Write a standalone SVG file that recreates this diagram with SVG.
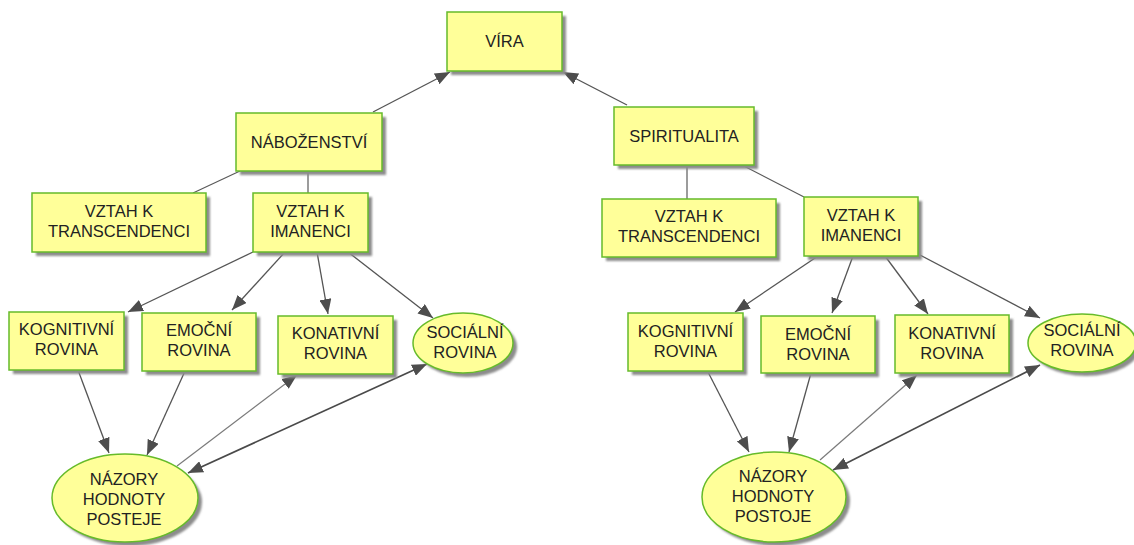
<svg xmlns="http://www.w3.org/2000/svg" width="1134" height="545" viewBox="0 0 1134 545">
<defs>
<marker id="ah" markerUnits="userSpaceOnUse" markerWidth="16" markerHeight="12" refX="15" refY="6" orient="auto-start-reverse">
<path d="M0,0 L15,6 L0,12 z" fill="#4d4d4d"/>
</marker>
<filter id="blur" x="-10%" y="-10%" width="130%" height="130%"><feGaussianBlur stdDeviation="1"/></filter>
</defs>
<style>
.box{fill:#ffff99;stroke:#66bb2a;stroke-width:1.5}
.sh{fill:#8c8c8c;filter:url(#blur)}
.t{font-family:"Liberation Sans",Arial,sans-serif;font-size:16.5px;fill:#222;text-anchor:middle}
.ln{stroke:#5a5a5a;stroke-width:1.2;fill:none}
.ar{stroke:#555;stroke-width:1.3;fill:none;marker-end:url(#ah)}
.lt{stroke:#7a7a7a;stroke-width:1.2;fill:none;marker-end:url(#ah)}
.db{stroke:#4a4a4a;stroke-width:1.7;fill:none;marker-end:url(#ah);marker-start:url(#ah)}
</style>
<rect width="1134" height="545" fill="#fff"/>
<g id="connectors">
<line class="ar" x1="373" y1="112" x2="450" y2="72"/>
<line class="ar" x1="627" y1="105" x2="563" y2="72"/>
<line class="ln" x1="193" y1="193" x2="240" y2="171"/>
<line class="ln" x1="308" y1="171" x2="308" y2="193"/>
<line class="ln" x1="687" y1="165" x2="687" y2="199"/>
<line class="ln" x1="742" y1="165" x2="804" y2="197"/>
<line class="ar" x1="253" y1="252" x2="128" y2="312"/>
<line class="ar" x1="285" y1="252" x2="232" y2="310"/>
<line class="ar" x1="317" y1="252" x2="328" y2="314"/>
<line class="ar" x1="348" y1="252" x2="433" y2="318"/>
<line class="ar" x1="818" y1="256" x2="735" y2="312"/>
<line class="ar" x1="853" y1="256" x2="832" y2="313"/>
<line class="ar" x1="885" y1="256" x2="928" y2="314"/>
<line class="ar" x1="918" y1="254" x2="1040" y2="318"/>
<line class="ar" x1="78" y1="370" x2="109" y2="453"/>
<line class="ar" x1="185" y1="371" x2="147" y2="455"/>
<line class="lt" x1="177" y1="466" x2="297" y2="375"/>
<line class="db" x1="188" y1="473" x2="427" y2="364"/>
<line class="ar" x1="708" y1="372" x2="749" y2="452"/>
<line class="ar" x1="811" y1="373" x2="789" y2="452"/>
<line class="lt" x1="820" y1="460" x2="917" y2="375"/>
<line class="db" x1="833" y1="470" x2="1040" y2="365"/>
</g>
<g id="vira"><rect class="sh" x="451" y="16" width="115" height="59"/><rect class="box" x="447" y="12" width="115" height="59"/><text class="t" x="504.5" y="47">VÍRA</text></g>
<g id="nabozenstvi"><rect class="sh" x="240" y="117" width="146" height="58"/><rect class="box" x="236" y="113" width="146" height="58"/><text class="t" x="309" y="148">NÁBOŽENSTVÍ</text></g>
<g id="transcL"><rect class="sh" x="36" y="197" width="174" height="59"/><rect class="box" x="32" y="193" width="174" height="59"/><text class="t" x="119" y="217">VZTAH K</text><text class="t" x="119" y="237">TRANSCENDENCI</text></g>
<g id="imanL"><rect class="sh" x="257" y="197" width="115" height="59"/><rect class="box" x="253" y="193" width="115" height="59"/><text class="t" x="310.5" y="217">VZTAH K</text><text class="t" x="310.5" y="237">IMANENCI</text></g>
<g id="kogL"><rect class="sh" x="13" y="316" width="115" height="58"/><rect class="box" x="9" y="312" width="115" height="58"/><text class="t" x="66.5" y="335">KOGNITIVNÍ</text><text class="t" x="66.5" y="355">ROVINA</text></g>
<g id="emoL"><rect class="sh" x="146" y="317" width="114" height="58"/><rect class="box" x="142" y="313" width="114" height="58"/><text class="t" x="199" y="336">EMOČNÍ</text><text class="t" x="199" y="356">ROVINA</text></g>
<g id="konL"><rect class="sh" x="282" y="320" width="115" height="58"/><rect class="box" x="278" y="316" width="115" height="58"/><text class="t" x="335.5" y="339">KONATIVNÍ</text><text class="t" x="335.5" y="359">ROVINA</text></g>
<g id="socL"><ellipse class="sh" cx="467" cy="347" rx="50" ry="30"/><ellipse class="box" cx="463" cy="343" rx="50" ry="30"/><text class="t" x="465" y="338">SOCIÁLNÍ</text><text class="t" x="465" y="358">ROVINA</text></g>
<g id="nazL"><ellipse class="sh" cx="129" cy="502" rx="73" ry="44"/><ellipse class="box" cx="125" cy="498" rx="73" ry="44"/><text class="t" x="124" y="485">NÁZORY</text><text class="t" x="124" y="505">HODNOTY</text><text class="t" x="124" y="525">POSTEJE</text></g>
<g id="spiritualita"><rect class="sh" x="618" y="111" width="140" height="58"/><rect class="box" x="614" y="107" width="140" height="58"/><text class="t" x="684" y="141.5">SPIRITUALITA</text></g>
<g id="transcR"><rect class="sh" x="606" y="203" width="174" height="58"/><rect class="box" x="602" y="199" width="174" height="58"/><text class="t" x="689" y="222">VZTAH K</text><text class="t" x="689" y="242">TRANSCENDENCI</text></g>
<g id="imanR"><rect class="sh" x="808" y="201" width="114" height="59"/><rect class="box" x="804" y="197" width="114" height="59"/><text class="t" x="861" y="220.5">VZTAH K</text><text class="t" x="861" y="240.5">IMANENCI</text></g>
<g id="kogR"><rect class="sh" x="632" y="317" width="115" height="58"/><rect class="box" x="628" y="313" width="115" height="58"/><text class="t" x="685.5" y="337">KOGNITIVNÍ</text><text class="t" x="685.5" y="357">ROVINA</text></g>
<g id="emoR"><rect class="sh" x="765" y="320" width="114" height="57"/><rect class="box" x="761" y="316" width="114" height="57"/><text class="t" x="818" y="340">EMOČNÍ</text><text class="t" x="818" y="360">ROVINA</text></g>
<g id="konR"><rect class="sh" x="899" y="319" width="114" height="58"/><rect class="box" x="895" y="315" width="114" height="58"/><text class="t" x="952" y="339">KONATIVNÍ</text><text class="t" x="952" y="359">ROVINA</text></g>
<g id="socR"><ellipse class="sh" cx="1086" cy="347" rx="54" ry="29"/><ellipse class="box" cx="1082" cy="343" rx="54" ry="29"/><text class="t" x="1082" y="336">SOCIÁLNÍ</text><text class="t" x="1082" y="356">ROVINA</text></g>
<g id="nazR"><ellipse class="sh" cx="778" cy="501" rx="72" ry="45"/><ellipse class="box" cx="774" cy="497" rx="72" ry="45"/><text class="t" x="773" y="482">NÁZORY</text><text class="t" x="773" y="502">HODNOTY</text><text class="t" x="773" y="522">POSTOJE</text></g>
</svg>
